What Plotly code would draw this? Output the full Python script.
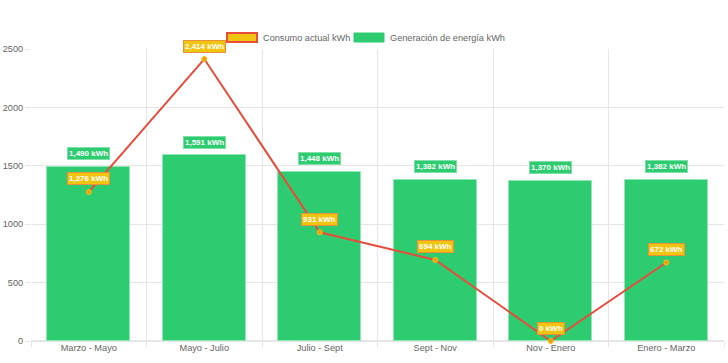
import plotly.graph_objects as go

categories = ["Marzo - Mayo", "Mayo - Julio", "Julio - Sept", "Sept - Nov", "Nov - Enero", "Enero - Marzo"]
generacion = [1490, 1591, 1448, 1382, 1370, 1382]
consumo = [1276, 2414, 931, 694, 0, 672]
y_ticks = [0, 500, 1000, 1500, 2000, 2500]
series_names = ["Consumo actual kWh", "Generación de energía kWh"]

GREEN = "#2ecc71"
RED = "#e74c3c"
YELLOW = "#f1c40f"
ORANGE = "#f39c12"
GRID = "#e6e6e6"
TXT = "#666666"
FONT = "Liberation Sans, Arial, sans-serif"
FS = 9.2

xs = list(range(len(categories)))

fig = go.Figure()
fig.add_trace(go.Bar(
    x=xs, y=generacion, name=series_names[1], width=0.72,
    marker=dict(color=GREEN, line=dict(color="#8fe8b5", width=1)),
    showlegend=False, hoverinfo="y",
))
fig.add_trace(go.Scatter(
    x=xs, y=consumo, name=series_names[0], mode="lines+markers",
    line=dict(color=RED, width=2), cliponaxis=False,
    marker=dict(color=ORANGE, size=5, line=dict(color=YELLOW, width=1)),
    showlegend=False, hoverinfo="y",
))

def fmt(v):
    return f"{v:,} kWh"

for x, v in zip(xs, generacion):
    fig.add_annotation(x=x, y=v, text=f"<b>{fmt(v)}</b>", showarrow=False,
                       yshift=13, font=dict(family=FONT, size=8, color="white"),
                       bgcolor=GREEN, bordercolor="#7fe0a8", borderwidth=1, borderpad=1)
for x, v in zip(xs, consumo):
    fig.add_annotation(x=x, y=v, text=f"<b>{fmt(v)}</b>", showarrow=False,
                       yshift=13, font=dict(family=FONT, size=8, color="white"),
                       bgcolor=YELLOW, bordercolor="#e8903a", borderwidth=1, borderpad=1)

# plot-area pixel box in the page
L, R, T, B = 31, 724, 49, 341
W, H = R - L, B - T
def px(xp): return (xp - L) / W
def py(yp): return (B - yp) / H

fig.add_shape(type="rect", xref="paper", yref="paper",
              x0=px(227), x1=px(257), y0=py(42), y1=py(33),
              fillcolor=YELLOW, line=dict(color=RED, width=2))
fig.add_annotation(xref="paper", yref="paper", x=px(261), y=py(37.5), xanchor="left",
                   yanchor="middle", showarrow=False, text=series_names[0],
                   font=dict(family=FONT, size=FS, color=TXT))
fig.add_shape(type="rect", xref="paper", yref="paper",
              x0=px(354), x1=px(384), y0=py(42), y1=py(33),
              fillcolor=GREEN, line=dict(color=GREEN, width=1))
fig.add_annotation(xref="paper", yref="paper", x=px(388), y=py(37.5), xanchor="left",
                   yanchor="middle", showarrow=False, text=series_names[1],
                   font=dict(family=FONT, size=FS, color=TXT))

fig.update_layout(
    width=728, height=363,
    margin=dict(l=L, r=728 - R, t=T, b=363 - B, pad=0),
    paper_bgcolor="white", plot_bgcolor="white",
    font=dict(family=FONT, size=FS, color=TXT),
    bargap=0,
)
fig.update_xaxes(
    automargin=False,
    range=[-0.5, len(categories) - 0.5], tickvals=xs, ticktext=categories,
    showgrid=False, zeroline=False, ticks="", showline=False,
    tickfont=dict(size=FS, color=TXT),
    minor=dict(tickvals=[i - 0.5 for i in range(len(categories) + 1)],
               showgrid=True, gridcolor=GRID, gridwidth=1,
               ticks="outside", ticklen=5, tickcolor=GRID),
)
fig.update_yaxes(
    automargin=False,
    range=[0, 2500], tickvals=y_ticks, showgrid=True, gridcolor=GRID,
    zeroline=True, zerolinecolor=GRID, ticks="outside", ticklen=5, tickcolor=GRID,
    tickfont=dict(size=FS, color=TXT), showline=False,
)

fig.write_html("out.html", config={"displayModeBar": False},
               post_script="document.body.style.margin='0';document.body.style.overflow='hidden';")
